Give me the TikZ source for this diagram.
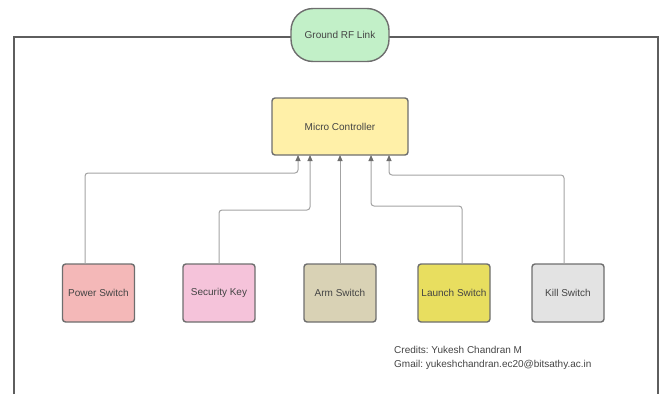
\documentclass[tikz,border=0pt]{standalone}
\usepackage{fontspec}
\setmainfont{Liberation Sans}
\usepackage{xcolor}
\usetikzlibrary{arrows.meta,calc,positioning}
\definecolor{linkgreen}{HTML}{C2F0C8}
\definecolor{mcyellow}{HTML}{FFF0A8}
\definecolor{powerred}{HTML}{F4B8B8}
\definecolor{keypink}{HTML}{F5C3DA}
\definecolor{armtan}{HTML}{D9D2B5}
\definecolor{launchyellow}{HTML}{E8DE5F}
\definecolor{killgrey}{HTML}{E3E3E3}
\definecolor{edgegrey}{HTML}{6E6E6E}
\definecolor{wiregrey}{HTML}{A3A3A3}
\definecolor{textgrey}{HTML}{444444}
\tikzset{%
	swbox/.style    = {draw=edgegrey, line width=1.4pt, rectangle, rounded corners=3pt, minimum width=72pt, minimum height=58pt, inner sep=0pt, outer sep=0pt, text=textgrey, font=\fontsize{10}{12}\selectfont},
	mcbox/.style    = {swbox, fill=mcyellow, minimum width=136pt, minimum height=57pt},
	linkbox/.style  = {swbox, fill=linkgreen, rounded corners=22pt, minimum width=98pt, minimum height=53pt},
	wire/.style     = {draw=wiregrey, line width=1pt, rounded corners=3pt, -{Triangle[length=6pt,width=5pt,color=edgegrey]}},
	credit/.style   = {text=textgrey, font=\fontsize{10}{14}\selectfont\frenchspacing, align=left, anchor=north west, inner sep=0pt},
}
\begin{document}
\begin{tikzpicture}[x=1pt, y=-1pt, node distance = 49pt]
	\useasboundingbox (0,0) rectangle (664,394);
	% outer frame
	\draw[edgegrey!85!black, line width=1.6pt] (14,394) -- (14,37) -- (658,37) -- (658,394);
	\node[linkbox] (rf) at (340,35) {Ground RF Link};
	\node[mcbox] (mc) at (340,126.5) {Micro Controller};
	
	\node[swbox, fill=powerred] (pw) at (98.5,293) {Power Switch};
	\node[swbox, fill=keypink, right=48.5pt of pw] (sk) {Security Key};
	\node[swbox, fill=armtan, right=of sk] (arm) {Arm Switch};
	\node[swbox, fill=launchyellow, right=42pt of arm] (ls) {Launch Switch};
	\node[swbox, fill=killgrey, right=42pt of ls] (ks) {Kill Switch};
	
	\draw[wire] ([xshift=-13.5pt]pw.north) |- ([xshift=-42pt,yshift=-18pt]mc.south) -- ([xshift=-42pt]mc.south);
	\draw[wire] (sk.north) |- ([xshift=-30pt,yshift=-55pt]mc.south) -- ([xshift=-30pt]mc.south);
	\draw[wire] (arm.north) -- (mc.south);
	\draw[wire] ([xshift=8pt]ls.north) |- ([xshift=31pt,yshift=-51pt]mc.south) -- ([xshift=31pt]mc.south);
	\draw[wire] ([xshift=-4pt]ks.north) |- ([xshift=49pt,yshift=-20pt]mc.south) -- ([xshift=49pt]mc.south);
	
	\node[credit] (cr) at (394,346) {Credits: Yukesh Chandran M\\Gmail: yukeshchandran.ec20@bitsathy.ac.in};
\end{tikzpicture}
\end{document}
